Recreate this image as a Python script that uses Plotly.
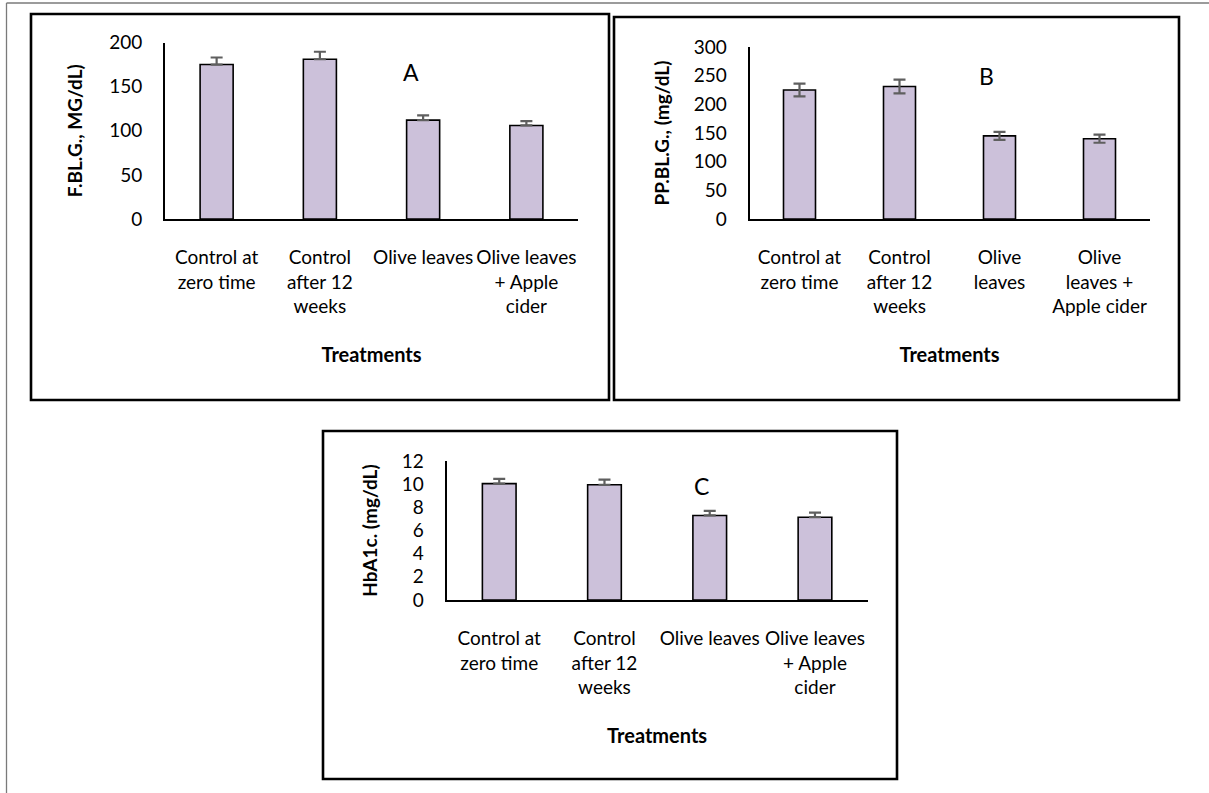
import plotly.graph_objects as go

W, H = 1209, 793

# ---------------- data ----------------
cats_a = ["Control at<br>zero time", "Control<br>after 12<br>weeks", "Olive leaves", "Olive leaves<br>+ Apple<br>cider"]
cats_b = ["Control at<br>zero time", "Control<br>after 12<br>weeks", "Olive<br>leaves", "Olive<br>leaves +<br>Apple cider"]
cats_c = ["Control at<br>zero time", "Control<br>after 12<br>weeks", "Olive leaves", "Olive leaves<br>+ Apple<br>cider"]

fblg = [175, 181, 112, 106]
fblg_err = [8, 8.5, 5.5, 5]

ppblg = [225, 231, 145, 140]
ppblg_err = [11, 12, 7, 7]

hba1c = [10.05, 9.95, 7.3, 7.15]
hba1c_err = [0.4, 0.45, 0.4, 0.4]

ytitle_a = "F.BL.G., MG/dL)"
ytitle_b = "PP.BL.G., (mg/dL)"
ytitle_c = "HbA1c. (mg/dL)"
xtitle = "Treatments"
panel_letters = ["A", "B", "C"]

# ---------------- style ----------------
FONT = "Lato"
BAR_FILL = "#CCC1DA"
ERR_COL = "#5F5F5F"


def px(x):
    return x / W


def py(y):
    return 1 - y / H


fig = go.Figure()


def add_bars(x, y, err, xa, ya, symmetric):
    if symmetric:
        ey = dict(type="data", array=err, visible=True, color=ERR_COL, thickness=2.2, width=6)
    else:
        ey = dict(type="data", array=err, arrayminus=[0] * len(err), symmetric=False,
                  visible=True, color=ERR_COL, thickness=2.2, width=6)
    fig.add_trace(go.Bar(x=x, y=y, xaxis=xa, yaxis=ya, width=0.32,
                         marker=dict(color=BAR_FILL, line=dict(color="black", width=1.6)),
                         error_y=ey, showlegend=False, hoverinfo="skip"))


add_bars(cats_a, fblg, fblg_err, "x", "y", False)
add_bars(cats_b, ppblg, ppblg_err, "x2", "y2", True)
add_bars(cats_c, hba1c, hba1c_err, "x3", "y3", False)

xtickfont = dict(family=FONT, size=19, color="black")
ytickfont = dict(family=FONT, size=19, color="black")
xtitlefont = dict(family=FONT, size=20, color="black")
ytitlefont = dict(family=FONT, size=19, color="black")


def xaxis(domain, anchor):
    return dict(domain=domain, anchor=anchor, showline=True, linecolor="black", linewidth=2,
                showgrid=False, zeroline=False, ticks="", tickfont=xtickfont,
                ticklabelstandoff=20, automargin=False,
                title=dict(text="<b>" + xtitle + "</b>", font=xtitlefont, standoff=32),
                fixedrange=True)


def yaxis(domain, anchor, rng, dtick, title, standoff):
    return dict(domain=domain, anchor=anchor, range=rng, dtick=dtick, showline=True,
                linecolor="black", linewidth=2, showgrid=False, zeroline=False, ticks="",
                tickfont=ytickfont, ticklabelstandoff=17, automargin=False,
                title=dict(text="<b>" + title + "</b>", font=ytitlefont, standoff=standoff),
                fixedrange=True)


fig.update_layout(
    template="none",
    width=W, height=H, margin=dict(l=0, r=0, t=0, b=0, pad=0), autosize=False,
    paper_bgcolor="white", plot_bgcolor="white",
    font=dict(family=FONT, color="black"),
    xaxis=xaxis([px(165), px(578)], "y"),
    yaxis=yaxis([py(219), py(42.5)], "x", [0, 200], 50, ytitle_a, 21),
    xaxis2=xaxis([px(749.5), px(1149.5)], "y2"),
    yaxis2=yaxis([py(219), py(47)], "x2", [0, 300], 50, ytitle_b, 19),
    xaxis3=xaxis([px(446.6), px(867.6)], "y3"),
    yaxis3=yaxis([py(600), py(461)], "x3", [0, 12], 2, ytitle_c, 19),
    showlegend=False,
)

# panel letters
for letter, (lx, ly) in zip(panel_letters, [(411, 72), (986, 76), (701, 486)]):
    fig.add_annotation(x=px(lx), y=py(ly), xref="paper", yref="paper", text=letter,
                       showarrow=False, font=dict(family=FONT, size=23, color="black"),
                       xanchor="center", yanchor="middle")

# panel boxes
boxes = [(31, 14, 609, 400), (614, 17, 1179, 400), (323, 431, 897, 779)]
for (x0, y0, x1, y1) in boxes:
    fig.add_shape(type="rect", xref="paper", yref="paper", x0=px(x0), y0=py(y0), x1=px(x1), y1=py(y1),
                  line=dict(color="black", width=2.6), fillcolor="rgba(0,0,0,0)", layer="above")

# outer frame (top and left edges visible)
fig.add_shape(type="line", xref="paper", yref="paper", x0=px(6.5), y0=py(3), x1=px(1209), y1=py(3),
              line=dict(color="#7A7A7A", width=1.3))
fig.add_shape(type="line", xref="paper", yref="paper", x0=px(6.5), y0=py(3), x1=px(6.5), y1=py(793),
              line=dict(color="#7A7A7A", width=1.3))

fig.write_html(
    "out.html",
    config={"displayModeBar": False},
    post_script="document.body.style.margin='0';document.body.style.overflow='hidden';",
)
